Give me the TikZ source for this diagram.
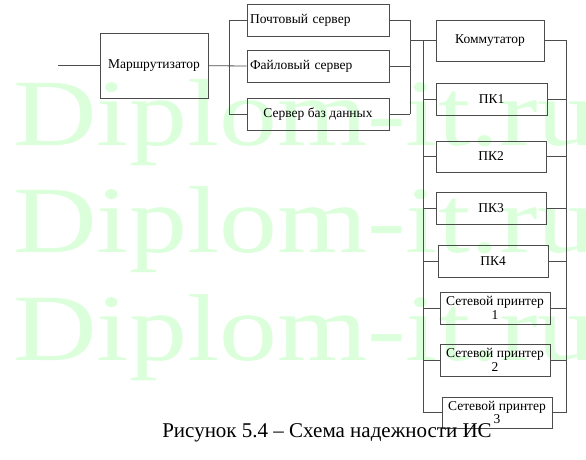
\documentclass[tikz,border=0pt]{standalone}
\usepackage{fontspec}
\setmainfont{Liberation Serif}
\definecolor{linec}{gray}{0.3}
\definecolor{wm}{RGB}{218,255,218}
\newcommand{\boxfont}{\fontsize{13.5}{15}\selectfont}
\begin{document}
\begin{tikzpicture}[x=1pt,y=-1pt,
  blk/.style={draw=linec, line width=.8pt, inner sep=0pt, font=\boxfont, align=center, fill=none},
  wire/.style={draw=linec, line width=.8pt},
  wmark/.style={anchor=base west, font=\fontsize{95}{95}\selectfont, text=wm, inner sep=0pt}]
\useasboundingbox (0,0) rectangle (586,460);
% watermark
\node[wmark] (w1) at (13,145) {\scalebox{1.22}[1]{Diplom-it.ru}};
\node[wmark] (w2) at (13,252.5) {\scalebox{1.22}[1]{Diplom-it.ru}};
\node[wmark] (w3) at (13,360) {\scalebox{1.22}[1]{Diplom-it.ru}};
% boxes
\node[blk, minimum width=108pt, minimum height=65pt] (rt) at (154,65.7) {Маршрутизатор};
\node[blk, text width=136pt, inner xsep=3pt, minimum height=32pt, align=left] (mail) at (318,20) {Почтовый сервер};
\node[blk, text width=136pt, inner xsep=3pt, minimum height=32pt, align=left] (file) at (318,66) {Файловый сервер};
\node[blk, minimum width=142pt, minimum height=32pt] (db) at (318,114) {Сервер баз данных};
\node[blk, minimum width=108pt, minimum height=41pt] (km) at (490,40.5) {Коммутатор};
\node[blk, minimum width=111pt, minimum height=32pt] (pc1) at (491.5,99) {ПК1};
\node[blk, minimum width=110pt, minimum height=31pt] (pc2) at (491,156.5) {ПК2};
\node[blk, minimum width=110pt, minimum height=32pt] (pc3) at (491,208) {ПК3};
\node[blk, minimum width=110pt, minimum height=32pt] (pc4) at (493,261) {ПК4};
\node[blk, minimum width=110pt, minimum height=32pt] (pr1) at (495,308) {Сетевой принтер\\[-1.5pt]1};
\node[blk, minimum width=110pt, minimum height=32pt] (pr2) at (495,360) {Сетевой принтер\\[-1.5pt]2};
\node[blk, minimum width=110pt, minimum height=31pt] (pr3) at (497,412.5) {Сетевой принтер\\[-1.5pt]3};
% bus coordinates
\coordinate (in) at (58,65.7);
\coordinate (lbT) at (229,20);
\coordinate (lbB) at (229,114);
\coordinate (rbT) at (410,20);
\coordinate (rbB) at (410,114);
\coordinate (kl) at (410,40.5);
\coordinate (pl) at (423,40.5);
\coordinate (pr) at (566,40.5);
% connectors: router
\draw[wire] (in) -- (rt.west);
\draw[wire] (rt.east) -- (file.west);
\draw[wire] (lbT) -- (lbB);
\draw[wire] (lbT) -- (mail.west);
\draw[wire] (lbB) -- (db.west);
\draw[wire] (mail.east) -- (rbT);
\draw[wire] (file.east) -- (file.east -| rbT);
\draw[wire] (db.east) -- (rbB);
\draw[wire] (rbT) -- (rbB);
\draw[wire] (kl) -- (km.west);
\draw[wire] (km.east) -- (pr);
\draw[wire] (pl) -- (pl |- pr3.west);
\draw[wire] (pr) -- (pr |- pr3.east);
\foreach \n in {pc1,pc2,pc3,pc4,pr1,pr2,pr3}{
  \draw[wire] (pl |- \n.west) -- (\n.west);
  \draw[wire] (\n.east) -- (pr |- \n.east);
}
% caption
\node[anchor=base, font=\fontsize{21}{23}\selectfont, inner sep=0pt] (cap) at (327,437) {Рисунок 5.4 – Схема надежности ИС};
\end{tikzpicture}
\end{document}
